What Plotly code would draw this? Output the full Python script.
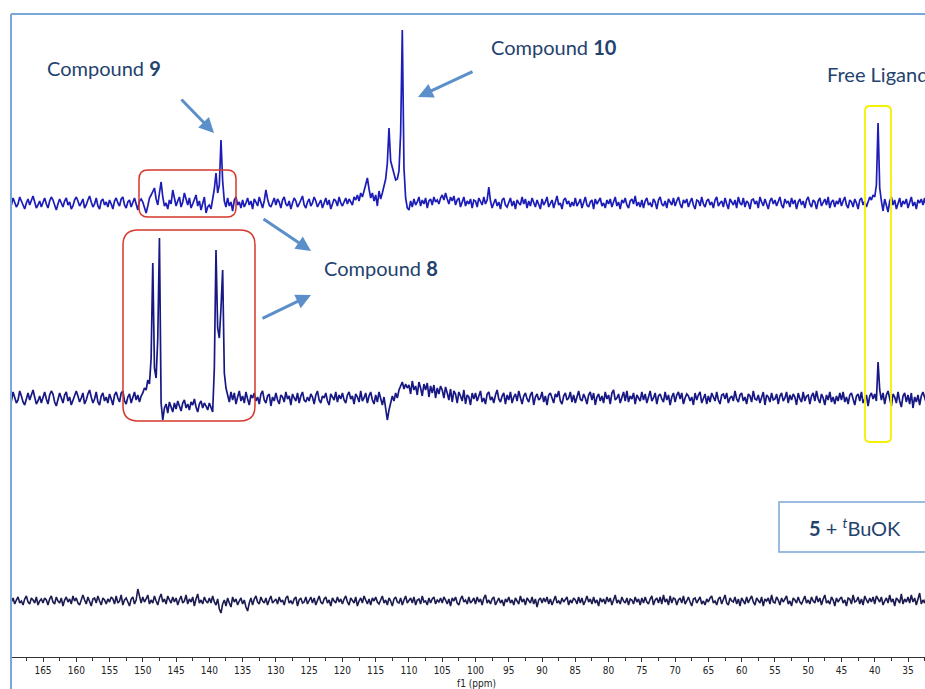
import numpy as np
import plotly.graph_objects as go

# ---------------- data: intensities (arb. units), sampled every 0.25 ppm from 170 ppm downwards ------------
# each row covers 5 ppm (20 points): row start = 170, 165, 160, ... 35
ppm_start = 170.0
ppm_step = 0.25

top_spectrum = [
    [3, -2, 5, 1, -4, -1, 6, 2, -3, -6, 0, 4, -2, 3, 7, 1, -5, -2, 2, -4],            # 170
    [1, 5, -1, -5, 2, 6, 3, -3, -7, -1, 4, 0, -4, 2, 5, -2, 1, -6, -3, 3],            # 165
    [6, 2, -3, 0, 4, -5, -2, 3, 7, 1, -4, -1, 5, -3, -6, 2, 4, -2, 1, -4],            # 160
    [3, -1, -6, 2, 5, 0, -3, 4, 6, -2, -5, 1, 3, -4, 0, 5, -1, -7, 2, 4],             # 155
    [1, -4, -10, -3, 5, 8, 12, 15, 4, -2, 10, 21, 6, -3, 0, -6, 3, -1, 13, 4],        # 150
    [-3, 2, 6, -4, 1, 10, 3, -2, 5, -5, -1, 4, 8, -3, 2, -7, 1, 6, -10, -4],          # 145
    [-2, -6, 4, 14, 30, 10, 18, 63, 22, 2, -4, 5, -3, 1, -8, 3, 6, -2, 1, -5],        # 140
    [3, -4, 0, 5, -2, 2, -6, 4, 1, -3, 6, -1, -5, 2, 13, 4, -2, -4, 0, 5],            # 135
    [-2, 4, 1, -5, 3, 6, -1, -3, 2, -6, 0, 5, 2, -4, -1, 3, 7, -2, -5, 1],            # 130
    [4, -3, 0, 6, 2, -4, -1, 3, -5, 1, 5, -2, 3, -6, -1, 4, 2, -3, 6, 0],             # 125
    [-3, 2, 5, -1, 4, 1, -2, 6, 3, 8, 2, 10, 6, 12, 18, 25, 14, 5, 10, 2],            # 120
    [8, -3, 12, 4, 10, 16, 24, 40, 75, 42, 36, 28, 23, 24, 32, 70, 173, 35, 5, -5],   # 115
    [-7, 2, -4, 4, -2, 1, 6, -3, 3, -1, 5, -5, 2, 4, -2, 6, 1, 3, -1, 5],             # 110
    [8, 3, 10, 4, -1, 6, 2, 7, -2, 3, 5, -4, 1, 6, -3, 2, -1, 4, -5, 3],              # 105
    [2, -4, 5, 1, -2, 6, -1, 3, 16, 2, -5, 0, 4, -3, 1, -6, 3, 5, -2, -4],            # 100
    [1, 5, -3, 2, -6, 3, 0, -2, 6, -1, 4, -5, 2, -3, 5, 1, -4, 3, -1, -6],            # 95
    [4, -2, 1, 6, -4, -1, 3, -5, 2, 7, -2, 0, -6, 3, 5, -1, 2, -4, 1, -3],            # 90
    [5, -3, 0, 4, -5, 2, 6, -2, -4, 1, 3, -6, 4, -1, 2, 5, -3, 0, -5, 3],             # 85
    [-1, 4, -4, 2, 6, -3, 1, -6, 3, 0, 5, -2, -5, 2, 4, -1, 7, -3, 1, -4],            # 80
    [3, -5, 2, 5, -2, 0, -4, 4, 1, -6, 3, 6, -1, -3, 2, -5, 4, 1, -2, 5],             # 75
    [-3, 2, 6, -1, -5, 3, 0, 4, -4, 1, 5, -2, -6, 3, 2, -3, 6, -1, -4, 2],            # 70
    [4, -2, 1, -5, 3, 6, -3, 0, 2, -4, 5, -1, -6, 4, 1, -2, 3, -5, 6, 0],             # 65
    [-2, 5, -4, 2, 0, -6, 3, 4, -1, 2, -5, 6, 1, -3, 4, -2, -6, 2, 5, -1],            # 60
    [3, -3, 1, 6, -2, -5, 4, 0, 2, -4, 5, -1, 3, -6, 1, 4, -2, 2, -5, 3],             # 55
    [6, -1, -4, 3, 1, -6, 2, 5, -3, 0, 4, -2, 6, -5, 1, 3, -4, 2, -1, 5],             # 50
    [-3, 2, 6, -2, -5, 3, 1, -4, 4, 0, -6, 3, 5, -2, 2, -4, 1, 6, 3, 8],              # 45
    [6, 18, 80, 15, 2, -8, 4, -3, -9, 2, 6, -2, 3, -6, 1, 5, -4, 2, -1, 4],           # 40
    [-5, 2, 6, -3, 1, -6, 3, 0, 4, -2, 5, -4, 1, 3, -2, 6, -1, 2, -3, 1],             # 35
]

middle_spectrum = [
    [4, -3, 6, 1, -5, -2, 7, 2, -4, -7, 0, 5, -2, 3, 8, 1, -6, -3, 2, -5],
    [2, 6, -1, -6, 3, 7, 4, -4, -8, -1, 5, 0, -5, 3, 6, -3, 1, -7, -2, 4],
    [7, 2, -4, 0, 5, -6, -2, 4, 8, 1, -5, -1, 6, -4, -7, 2, 5, -3, 1, -5],
    [4, -1, -7, 3, 6, 0, -4, 5, 7, -3, -6, 1, 4, -5, 0, 6, -2, 3, -4, 2],
    [5, 10, 8, 18, 14, 40, 135, 30, 20, 60, 160, -5, -22, -10, -6, -15, -4, -9, -14, -5],
    [-11, -3, -8, -13, -5, -2, -10, -6, -12, -4, -7, -1, -9, -14, -6, -3, -10, -5, -8, -12],
    [-5, -10, -14, 30, 148, 70, 60, 90, 128, 25, 10, 3, -4, 6, -2, 5, -6, 1, 7, -3],
    [2, -5, 6, -1, -7, 3, 0, 5, -3, 1, -6, 4, 7, -2, -5, 2, 4, -8, 1, -3],
    [5, -2, -6, 3, 1, -4, 6, -1, 2, -7, 4, 0, -3, 5, -5, 2, 6, -2, -4, 1],
    [-3, 4, 1, -6, 3, 7, -2, -5, 2, 0, 5, -3, -7, 4, 1, -2, 6, -4, 3, -1],
    [5, -2, -5, 3, 6, -1, 2, -6, 4, 1, -4, 7, -3, 0, 5, -5, 2, 6, -2, -6],
    [3, -4, 6, -2, -7, 1, -10, -22, -12, -5, 2, -3, 5, 0, 8, 12, 16, 9, 14, 10],
    [13, 4, 17, 8, 12, 3, 16, 10, 2, 14, 8, 15, 1, 12, 5, 13, 0, 10, 4, 12],
    [8, 0, 11, 5, -2, 9, -4, 7, 4, -5, 6, 2, -3, 8, -6, 3, 1, -7, 5, -1],
    [5, -3, 2, 7, -4, 0, -6, 4, 6, -2, 1, -5, 3, 8, -1, -4, 2, 5, -6, 3],
    [-2, 6, -5, 1, 4, -3, 7, 0, -6, 2, 5, -1, -4, 3, 6, -7, 1, 4, -2, 0],
    [6, -4, 2, -7, 3, 5, -1, -5, 4, 1, 7, -3, -6, 2, 5, -2, 0, 6, -4, 3],
    [-5, 2, 7, -1, -3, 4, 0, -6, 3, 6, -2, 5, -7, 1, 4, -3, 2, -5, 6, -1],
    [3, -6, 5, 8, -2, 0, 4, -5, 1, 6, -3, 7, -4, 2, -1, 5, -6, 3, 0, -3],
    [6, -2, 4, -5, 1, 7, -3, 0, 5, -6, 2, 4, -1, -4, 6, -2, 3, -7, 1, 5],
    [-4, 3, 6, -1, 5, -6, 0, 4, 2, -3, 1, -7, 5, -2, 3, 6, -5, 0, 4, -6],
    [2, -4, 5, 1, -3, 6, -2, -6, 3, 4, -1, 5, -5, 0, 2, -3, 7, -1, -4, 3],
    [5, -3, 1, -6, 4, 2, -4, 7, -1, -2, 3, -5, 0, 6, -7, 3, 1, -4, 5, -2],
    [-1, 4, -6, 2, 5, -3, 0, 6, -5, 3, -2, 4, 1, -7, 5, -1, -4, 6, -3, 2],
    [3, -6, 2, 5, -3, 7, -1, -5, 4, 0, -7, 3, -2, 6, -4, 1, -6, 2, -3, 5],
    [-2, 6, -4, 1, -6, 3, 5, -1, -7, 2, 4, -3, 6, -5, 0, 3, -8, 2, 5, -1],
    [4, -3, 36, 8, -2, 5, -6, 3, 7, -2, -8, 4, 1, -5, 6, -3, -9, 2, 5, -4],
    [3, -6, 5, -10, 1, -4, 3, -7, 2, 6, -1, -5, 4, -3, 2, -6, 1, 5, -2, 3],
]

bottom_spectrum = [
    [2, -1, 3, -3, 1, 4, -2, 0, -4, 2, 5, -1, -3, 3, 1, -2, 4, -4, 0, 2],
    [-2, 3, 1, -4, 2, 5, -1, -3, 4, 0, -2, 3, -5, 1, 4, -1, 2, -3, 5, 0],
    [3, -2, -4, 2, 6, 1, -3, 4, -1, -5, 2, 3, -2, 5, 0, -4, 3, 1, -3, 2],
    [-1, 4, 2, -3, 5, -2, 0, 6, -4, 1, 3, -1, -5, 2, 4, -3, 1, 12, 3, -2],
    [4, -1, 2, 6, -3, 1, -2, 5, 0, -4, 3, 7, -1, 2, -3, 5, 1, -2, 4, -1],
    [3, -4, 1, 5, -2, 0, 6, -3, 2, -1, 4, -5, 2, 7, -2, 1, -3, 4, 0, -2],
    [3, -2, 5, -1, -4, 2, -8, -12, -3, 1, -5, 3, -2, -6, 4, -1, 2, -4, 0, 3],
    [-3, 1, -6, -10, -2, 3, -4, 2, 5, -1, -3, 4, 0, -2, 3, -4, 1, 5, -2, 0],
    [2, -3, 4, -1, 1, -4, 3, 5, -2, 0, -3, 2, 4, -5, 1, 3, -2, -1, 4, -3],
    [1, 4, -2, 3, -4, 0, 5, -1, -3, 2, 4, -2, 1, -5, 3, 0, -2, 4, -1, 2],
    [-3, 2, 5, -1, -4, 3, 1, -2, 4, -5, 0, 3, -2, 5, 1, -3, 2, -4, 3, 0],
    [4, -1, -3, 2, 5, -2, 1, -4, 3, 0, -5, 2, 4, -1, -2, 3, -4, 1, 5, -2],
    [0, 3, -2, 4, -4, 1, 2, -3, 5, -1, 0, -4, 3, -2, 2, 4, -3, 1, -1, 3],
    [-2, 4, 1, -3, 2, -5, 3, 0, 4, -2, -4, 2, 5, -1, 1, -3, 4, -2, 0, 3],
    [-3, 4, -1, 2, -4, 3, 6, -2, 1, -3, 2, 4, -4, 0, 3, -2, 1, -5, 2, -1],
    [4, -2, 1, -4, 3, 0, -3, 5, -1, 2, -4, 3, 1, -2, 4, -3, 2, -6, 1, 3],
    [-2, 3, -1, 4, -3, 2, -4, 1, 5, -2, 0, -3, 3, -1, 2, 4, -4, 1, -2, 3],
    [1, -3, 4, -2, 3, -4, 0, 5, -1, 2, -3, 4, -2, 1, -5, 3, -1, 2, -3, 4],
    [-1, 3, -4, 2, 6, -2, 1, -3, 4, 0, -2, 3, -4, 2, 1, -3, 4, -1, 2, -4],
    [3, -2, 4, -1, -3, 2, 5, -4, 1, 3, -2, 4, -3, 6, -1, 2, -4, 5, -2, 3],
    [2, -4, 1, 3, -2, 5, -3, 0, 4, -1, -5, 2, 3, -2, 1, 4, -3, 0, -4, 2],
    [-1, 3, 5, -2, 0, -4, 2, 4, -3, 1, 6, -2, -4, 3, 0, -1, 4, -3, 2, -5],
    [3, 0, -3, 4, -2, 2, 5, -1, -4, 3, 1, -2, 4, -5, 2, 0, 3, -3, 6, -1],
    [-2, 4, 1, -4, 3, -1, 2, 5, -3, 0, -5, 3, 1, -2, 4, -1, -3, 2, 5, -2],
    [1, -3, 4, 0, -2, 5, -1, 3, -4, 2, 6, -2, 0, -3, 4, 1, -5, 3, -1, 2],
    [4, -2, 1, -5, 3, 2, -3, 6, -1, 0, 4, -3, 2, -4, 5, 1, -2, 3, -1, 4],
    [-3, 5, 2, -1, 4, -4, 0, 3, -2, 6, -1, 2, -5, 3, 1, -2, 7, -3, 2, -1],
    [4, -2, 6, -1, 3, -4, 2, 8, -3, 1, -2, 5, -1, 3, -4, 2, 6, -2, 1, 3],
]

tick_values = [165, 160, 155, 150, 145, 140, 135, 130, 125, 120, 115, 110, 105, 100,
               95, 90, 85, 80, 75, 70, 65, 60, 55, 50, 45, 40, 35]


def flatten(name, rows):
    for i, r in enumerate(rows):
        if len(r) != 20:
            raise ValueError(f"{name} row {i} (start {170 - 5 * i} ppm) has {len(r)} points")
    return np.array([v for r in rows for v in r], dtype=float)


top_y = flatten("top", top_spectrum)
mid_y = flatten("middle", middle_spectrum)
bot_y = flatten("bottom", bottom_spectrum)
x = ppm_start - ppm_step * np.arange(len(top_y))

# ---------------- layout constants (page pixels) -------------
W_FIG, H_FIG = 925, 689
PLOT_L, PLOT_T, PLOT_B = 11, 14, 657
M_L, M_T, M_B, M_R = PLOT_L, PLOT_T, H_FIG - PLOT_B, 0
PW = W_FIG - PLOT_L
PH = PLOT_B - PLOT_T
PX_PER_PPM = 865 / 130.0
X_LEFT = 165 + (43 - PLOT_L) / PX_PER_PPM
X_RIGHT = X_LEFT - PW / PX_PER_PPM

OFFSET_TOP = PLOT_B - 203
OFFSET_MID = PLOT_B - 398
OFFSET_BOT = PLOT_B - 601


def fx(px):
    return (px - PLOT_L) / PW


def fy(py):
    return (PLOT_B - py) / PH


fig = go.Figure()
for arr, off, col, w in [
    (bot_y, OFFSET_BOT, "#1b1b52", 1.6),
    (mid_y, OFFSET_MID, "#181884", 1.7),
    (top_y, OFFSET_TOP, "#1c1cb8", 1.7),
]:
    fig.add_trace(go.Scatter(
        x=x, y=arr + off, mode="lines",
        line=dict(color=col, width=w), hoverinfo="skip", showlegend=False,
    ))


def rrect(x0, y0, x1, y1, r, color, width=1.5):
    X, Y = fx, fy
    p = (f"M {X(x0 + r)},{Y(y0)} L {X(x1 - r)},{Y(y0)} Q {X(x1)},{Y(y0)} {X(x1)},{Y(y0 + r)} "
         f"L {X(x1)},{Y(y1 - r)} Q {X(x1)},{Y(y1)} {X(x1 - r)},{Y(y1)} "
         f"L {X(x0 + r)},{Y(y1)} Q {X(x0)},{Y(y1)} {X(x0)},{Y(y1 - r)} "
         f"L {X(x0)},{Y(y0 + r)} Q {X(x0)},{Y(y0)} {X(x0 + r)},{Y(y0)} Z")
    return dict(type="path", xref="paper", yref="paper", path=p,
                line=dict(color=color, width=width), fillcolor="rgba(0,0,0,0)")


shapes = [
    rrect(139, 170, 236, 217, 9, "#d6382b"),
    rrect(123, 230, 255, 421, 15, "#d6382b"),
    rrect(865, 106, 891, 442, 5, "#f4f000", 1.8),
    dict(type="line", xref="paper", yref="paper", x0=fx(11), x1=fx(11), y0=fy(14), y1=fy(700),
         line=dict(color="#7ba6d8", width=2)),
    dict(type="line", xref="paper", yref="paper", x0=fx(11), x1=fx(935), y0=fy(14), y1=fy(14),
         line=dict(color="#7ba6d8", width=2)),
    dict(type="rect", xref="paper", yref="paper", x0=fx(779), x1=fx(940), y0=fy(552), y1=fy(502),
         line=dict(color="#7ba6d8", width=1.5), fillcolor="white"),
]

TXT = "#24426e"
LBL_FONT = dict(family="Lato, 'Open Sans', sans-serif", size=20, color=TXT)
ARROW = "#5b8fca"
TICK_FONT = "'Liberation Sans Narrow', 'DejaVu Sans Condensed', sans-serif"

annotations = [
    dict(text="Compound <b>9</b>", x=fx(104), y=fy(68)),
    dict(text="Compound <b>10</b>", x=fx(554), y=fy(47)),
    dict(text="Compound <b>8</b>", x=fx(381), y=fy(268)),
    dict(text="Free Ligand", x=fx(825), y=fy(74), xanchor="left"),
    dict(text="<b>5</b> + <sup><i>t</i></sup>BuOK", x=fx(855), y=fy(527)),
]
ann = []
for a in annotations:
    d = dict(xref="paper", yref="paper", showarrow=False, font=LBL_FONT,
             xanchor="center", yanchor="middle")
    d.update(a)
    ann.append(d)

for tail, head in [((180, 98), (214, 133)), ((474, 71), (418, 97)),
                   ((262, 218), (311, 251)), ((261, 319), (311, 295))]:
    ann.append(dict(xref="paper", yref="paper", x=fx(head[0]), y=fy(head[1]),
                    ax=tail[0] - head[0], ay=tail[1] - head[1], text="",
                    showarrow=True, arrowhead=2, arrowsize=1, arrowwidth=3,
                    arrowcolor=ARROW, standoff=0))

ann.append(dict(xref="paper", yref="paper", x=fx(477), y=fy(683), text="f1 (ppm)",
                showarrow=False, font=dict(family=TICK_FONT, size=10, color="#222"),
                xanchor="center", yanchor="middle"))

fig.update_layout(
    width=W_FIG, height=H_FIG,
    margin=dict(l=M_L, r=M_R, t=M_T, b=M_B, pad=0),
    paper_bgcolor="white", plot_bgcolor="white",
    shapes=shapes, annotations=ann,
    xaxis=dict(range=[X_LEFT, X_RIGHT], autorange=False, showgrid=False, zeroline=False,
               showline=True, linecolor="#333", linewidth=1,
               tickmode="array", tickvals=tick_values, ticktext=[str(v) for v in tick_values],
               ticks="outside", ticklen=4, tickcolor="#333", tickwidth=1,
               minor=dict(dtick=2.5, tick0=0, ticks="outside", ticklen=3, tickcolor="#333"),
               tickfont=dict(family=TICK_FONT, size=10, color="#222")),
    yaxis=dict(range=[0, PH], autorange=False, visible=False),
)

fig.write_html(
    "out.html",
    config={"displayModeBar": False, "staticPlot": True},
    post_script="document.body.style.margin='0';document.body.style.overflow='hidden';",
)
